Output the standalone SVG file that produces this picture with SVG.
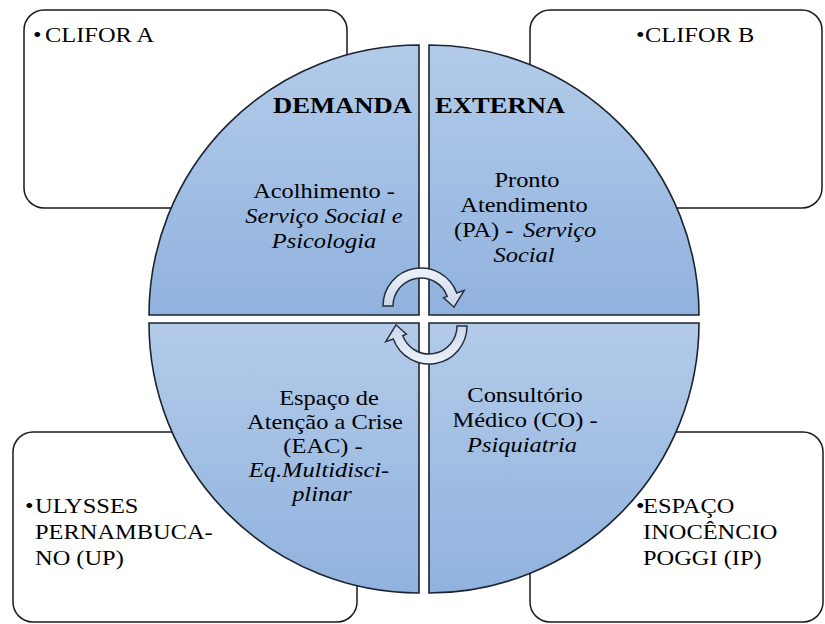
<svg xmlns="http://www.w3.org/2000/svg" width="825" height="624" viewBox="0 0 825 624">
<defs>
<linearGradient id="qg" x1="0" y1="0" x2="0" y2="1">
<stop offset="0" stop-color="#b3cbe9"/>
<stop offset="1" stop-color="#90b2de"/>
</linearGradient>
<linearGradient id="ag" x1="0" y1="0" x2="0" y2="1">
<stop offset="0" stop-color="#eef3f9"/>
<stop offset="1" stop-color="#c9d7eb"/>
</linearGradient>
<path id="arrowshape" d="M383 306 A38 38 0 0 1 456.7 293 L464.2 290.3 L454 307.2 L443.6 297.8 L447.3 296.4 A28 28 0 0 0 393 306 Z"/>
</defs>
<rect width="825" height="624" fill="#fff"/>
<g id="box-clifor-a"><rect x="24" y="10" width="323" height="198" rx="20" fill="#fff" stroke="#1a1a1a" stroke-width="1.5"/></g>
<g id="box-clifor-b"><rect x="530" y="10" width="292" height="198" rx="20" fill="#fff" stroke="#1a1a1a" stroke-width="1.5"/></g>
<g id="box-up"><rect x="13" y="432" width="344" height="190" rx="20" fill="#fff" stroke="#1a1a1a" stroke-width="1.5"/></g>
<g id="box-ip"><rect x="530" y="432" width="293" height="190" rx="20" fill="#fff" stroke="#1a1a1a" stroke-width="1.5"/></g>
<g id="q-acolhimento"><path d="M419 315 L149 315 A270 270 0 0 1 419 45 Z" fill="url(#qg)" stroke="#1c2430" stroke-width="1.6"/></g>
<g id="q-pronto"><path d="M429 315 L429 45 A270 270 0 0 1 699 315 Z" fill="url(#qg)" stroke="#1c2430" stroke-width="1.6"/></g>
<g id="q-eac"><path d="M419 323 L419 593 A270 270 0 0 1 149 323 Z" fill="url(#qg)" stroke="#1c2430" stroke-width="1.6"/></g>
<g id="q-co"><path d="M429 323 L699 323 A270 270 0 0 1 429 593 Z" fill="url(#qg)" stroke="#1c2430" stroke-width="1.6"/></g>
<g id="connectors" fill="url(#ag)" stroke="#263040" stroke-width="1.5">
<use id="arrow-top" href="#arrowshape"/>
<use id="arrow-bottom" href="#arrowshape" transform="rotate(180 425 316)"/>
</g>
<text font-family="Times New Roman, Liberation Serif, serif" font-size="22" transform="translate(33 0) scale(1.11 1)" x="0" y="42">•</text>
<text font-family="Times New Roman, Liberation Serif, serif" font-size="22" transform="translate(45 0) scale(1.11 1)" x="0" y="42">CLIFOR A</text>
<text font-family="Tinos, Liberation Serif, serif" font-size="22" transform="translate(636 0) scale(1.11 1)" x="0" y="42">•</text>
<text font-family="Tinos, Liberation Serif, serif" font-size="22" transform="translate(645 0) scale(1.11 1)" x="0" y="42">CLIFOR B</text>
<text text-anchor="middle" font-family="Liberation Serif, serif" font-size="24" font-weight="bold" transform="translate(342.5 0) scale(1.11 1)" x="0" y="113">DEMANDA</text>
<text text-anchor="middle" font-family="Liberation Serif, serif" font-size="24" font-weight="bold" transform="translate(500 0) scale(1.11 1)" x="0" y="113">EXTERNA</text>
<text text-anchor="middle" font-family="Times New Roman, Liberation Serif, serif" font-size="22" transform="translate(324 0) scale(1.11 1)" x="0" y="198">Acolhimento -</text>
<text text-anchor="middle" font-family="Times New Roman, Liberation Serif, serif" font-size="22" font-style="italic" transform="translate(324 0) scale(1.11 1)" x="0" y="223">Serviço Social e</text>
<text text-anchor="middle" font-family="Times New Roman, Liberation Serif, serif" font-size="22" font-style="italic" transform="translate(324 0) scale(1.11 1)" x="0" y="248">Psicologia</text>
<text text-anchor="middle" font-family="Tinos, Liberation Serif, serif" font-size="22" transform="translate(527 0) scale(1.11 1)" x="0" y="187">Pronto</text>
<text text-anchor="middle" font-family="Tinos, Liberation Serif, serif" font-size="22" transform="translate(524 0) scale(1.11 1)" x="0" y="212">Atendimento</text>
<text font-family="Tinos, Liberation Serif, serif" font-size="22" transform="translate(454 0) scale(1.11 1)" x="0" y="237">(PA) -</text>
<text font-family="Tinos, Liberation Serif, serif" font-size="22" font-style="italic" transform="translate(523 0) scale(1.11 1)" x="0" y="237">Serviço</text>
<text text-anchor="middle" font-family="Tinos, Liberation Serif, serif" font-size="22" font-style="italic" transform="translate(524 0) scale(1.11 1)" x="0" y="262">Social</text>
<text text-anchor="middle" font-family="serif" font-size="22" transform="translate(329 0) scale(1.11 1)" x="0" y="405">Espaço de</text>
<text text-anchor="middle" font-family="serif" font-size="22" transform="translate(325 0) scale(1.11 1)" x="0" y="429">Atenção a Crise</text>
<text text-anchor="middle" font-family="serif" font-size="22" transform="translate(323 0) scale(1.11 1)" x="0" y="453">(EAC) -</text>
<text text-anchor="middle" font-family="serif" font-size="22" font-style="italic" transform="translate(319 0) scale(1.11 1)" x="0" y="477">Eq.Multidisci-</text>
<text text-anchor="middle" font-family="serif" font-size="22" font-style="italic" transform="translate(322 0) scale(1.11 1)" x="0" y="501">plinar</text>
<text text-anchor="middle" font-family="Liberation Serif" font-size="22" transform="translate(525 0) scale(1.11 1)" x="0" y="402">Consultório</text>
<text text-anchor="middle" font-family="Liberation Serif" font-size="22" transform="translate(525 0) scale(1.11 1)" x="0" y="427">Médico (CO) -</text>
<text text-anchor="middle" font-family="Liberation Serif" font-size="22" font-style="italic" transform="translate(522 0) scale(1.11 1)" x="0" y="452">Psiquiatria</text>
<text font-family="serif" font-size="22" transform="translate(25 0) scale(1.11 1)" x="0" y="513">•</text>
<text font-family="serif" font-size="22" transform="translate(35 0) scale(1.11 1)" x="0" y="513">ULYSSES</text>
<text font-family="serif" font-size="22" transform="translate(35 0) scale(1.11 1)" x="0" y="539">PERNAMBUCA-</text>
<text font-family="serif" font-size="22" transform="translate(35 0) scale(1.11 1)" x="0" y="565">NO (UP)</text>
<text font-family="Liberation Serif" font-size="22" transform="translate(636 0) scale(1.11 1)" x="0" y="513">•</text>
<text font-family="Liberation Serif" font-size="22" transform="translate(643 0) scale(1.11 1)" x="0" y="513">ESPAÇO</text>
<text font-family="Liberation Serif" font-size="22" transform="translate(643 0) scale(1.11 1)" x="0" y="539">INOCÊNCIO</text>
<text font-family="Liberation Serif" font-size="22" transform="translate(643 0) scale(1.11 1)" x="0" y="565">POGGI (IP)</text>
</svg>
